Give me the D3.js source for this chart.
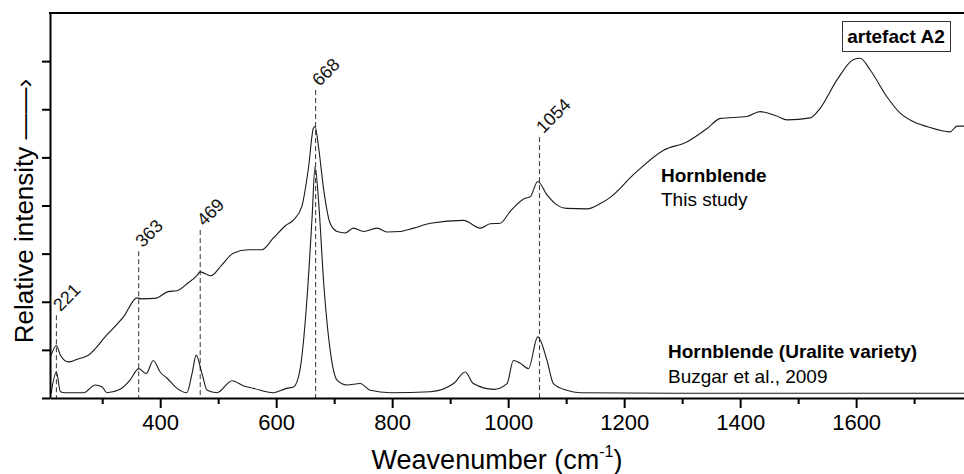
<!DOCTYPE html>
<html>
<head>
<meta charset="utf-8">
<script src="https://cdn.jsdelivr.net/npm/d3@7"></script>
<style>
	body { margin: 0; background: #fff; }
	svg { display: block; font-family: "Liberation Sans", Arial, sans-serif; }
	.axis path, .axis line { stroke: #000; }
</style>
</head>
<body>
<div id="chart"></div>
<script>
// Raman spectra, [wavenumber, relative intensity]
const thisStudy = [
	[212,0.89],[221,1.09],[228,0.89],[242,0.75],[256,0.80],[276,0.89],[308,1.31],[337,1.69],
	[360,2.08],[368,2.06],[391,2.07],[414,2.21],[429,2.23],[449,2.40],[463,2.54],[469,2.62],
	[487,2.54],[506,2.76],[526,3.01],[552,3.08],[575,3.08],[595,3.32],[616,3.58],[630,3.70],
	[644,3.97],[656,4.81],[664,5.60],[667,5.64],[673,5.22],[682,4.32],[693,3.63],[705,3.46],
	[719,3.43],[733,3.53],[751,3.46],[774,3.53],[791,3.45],[814,3.46],[837,3.53],[866,3.63],
	[923,3.69],[952,3.53],[969,3.62],[986,3.63],[1003,3.87],[1029,4.15],[1038,4.18],[1051,4.50],
	[1067,4.22],[1081,4.04],[1101,3.94],[1136,3.93],[1159,4.04],[1176,4.17],[1216,4.64],[1268,5.15],
	[1308,5.32],[1343,5.60],[1366,5.81],[1412,5.85],[1434,5.95],[1463,5.86],[1481,5.78],[1521,5.82],
	[1538,6.02],[1567,6.61],[1595,7.03],[1607,7.06],[1624,6.82],[1653,6.26],[1676,5.92],[1699,5.74],
	[1722,5.64],[1762,5.53],[1774,5.65],[1786,5.65]
];

const buzgar = [
	[212,0.10],[221,0.54],[228,0.13],[236,0.11],[268,0.11],[288,0.27],[300,0.23],[308,0.11],
	[331,0.18],[348,0.37],[363,0.61],[376,0.51],[388,0.78],[400,0.54],[412,0.41],[429,0.20],
	[446,0.11],[455,0.51],[462,0.89],[472,0.51],[481,0.16],[498,0.11],[524,0.36],[544,0.25],
	[561,0.20],[595,0.11],[618,0.20],[630,0.23],[641,0.58],[653,2.04],[662,3.77],[667,4.81],
	[673,4.11],[682,2.38],[693,1.00],[705,0.37],[722,0.27],[745,0.30],[762,0.16],[797,0.11],
	[866,0.13],[906,0.30],[926,0.54],[940,0.30],[975,0.18],[998,0.30],[1009,0.78],[1021,0.72],
	[1035,0.61],[1051,1.27],[1067,0.78],[1078,0.30],[1101,0.16],[1124,0.11],[1300,0.10],[1500,0.10],
	[1786,0.10]
];

const peaks = [221, 363, 469, 668, 1054];
const peakTops = [1.72, 3.05, 3.49, 6.40, 5.42];

const xMajor = [400, 600, 800, 1000, 1200, 1400, 1600];
const xMinor = [300, 500, 700, 900, 1100, 1300, 1500, 1700];
const yTicks = [0, 1, 2, 3, 4, 5, 6, 7];

const width = 964, height = 474;
const margin = { top: 13, right: 0, bottom: 76, left: 50 };

const svg = d3.select('#chart').append('svg')
	.attr('width', width)
	.attr('height', height);

const x = d3.scaleLinear()
	.domain([210, 1786])
	.range([margin.left, width - margin.right]);

const y = d3.scaleLinear()
	.domain([0, 8])
	.range([height - margin.bottom, margin.top]);

svg.append('clipPath').attr('id', 'plot-clip')
	.append('rect')
	.attr('x', margin.left).attr('y', margin.top)
	.attr('width', width - margin.left - margin.right)
	.attr('height', height - margin.top - margin.bottom);

// dashed peak markers
svg.append('g').selectAll('line')
	.data(peaks)
	.join('line')
	.attr('x1', d => x(d)).attr('x2', d => x(d))
	.attr('y1', (d, i) => y(peakTops[i]))
	.attr('y2', y(0))
	.attr('stroke', '#333')
	.attr('stroke-width', 1)
	.attr('stroke-dasharray', '5,3');

svg.append('g').selectAll('text')
	.data(peaks)
	.join('text')
	.attr('transform', (d, i) => `translate(${x(d) + 4},${y(peakTops[i]) - 3}) rotate(-45)`)
	.attr('font-size', 18)
	.attr('fill', '#111')
	.text(d => d);

// spectra
const line = d3.line()
	.x(d => x(d[0]))
	.y(d => y(d[1]))
	.curve(d3.curveMonotoneX);

svg.append('g').attr('clip-path', 'url(#plot-clip)')
	.selectAll('path')
	.data([thisStudy, buzgar])
	.join('path')
	.attr('d', line)
	.attr('fill', 'none')
	.attr('stroke', '#1a1a1a')
	.attr('stroke-width', 1.1);

// axes
const xAxis = svg.append('g').attr('class', 'axis')
	.attr('transform', `translate(0,${y(0)})`)
	.call(d3.axisBottom(x).tickValues(xMajor).tickFormat(d3.format('d'))
		.tickSize(10).tickSizeOuter(0).tickPadding(6))
	.call(g => g.selectAll('text').attr('font-size', 22).attr('fill', '#000').attr('font-family', null));
xAxis.select('.domain').attr('stroke-width', 2);
xAxis.selectAll('.tick line').attr('stroke-width', 2);

svg.append('g').attr('class', 'axis')
	.attr('transform', `translate(0,${y(0)})`)
	.call(d3.axisBottom(x).tickValues(xMinor).tickSize(6).tickFormat(''))
	.call(g => g.select('.domain').remove())
	.selectAll('.tick line').attr('stroke-width', 2);

const yAxis = svg.append('g').attr('class', 'axis')
	.attr('transform', `translate(${margin.left},0)`)
	.call(d3.axisLeft(y).tickValues(yTicks).tickSize(8).tickSizeOuter(0).tickFormat(''));
yAxis.select('.domain').attr('stroke-width', 2);
yAxis.selectAll('.tick line').attr('stroke-width', 2);

// top frame
svg.append('line')
	.attr('x1', margin.left - 1).attr('x2', width)
	.attr('y1', margin.top).attr('y2', margin.top)
	.attr('stroke', '#000').attr('stroke-width', 2);

// axis titles
const xTitle = svg.append('text')
	.attr('x', 497).attr('y', 469)
	.attr('text-anchor', 'middle')
	.attr('font-size', 27)
	.attr('fill', '#000');
xTitle.append('tspan').text('Weavenumber (cm');
xTitle.append('tspan').attr('font-size', 16).attr('dy', -12).text('-1');
xTitle.append('tspan').attr('dy', 12).text(')');

svg.append('text')
	.attr('transform', `translate(33,211) rotate(-90)`)
	.attr('text-anchor', 'middle')
	.attr('font-size', 26)
	.attr('fill', '#000')
	.text('Relative intensity ——›');

// series labels
const labels = [
	{ x: 661, y: 182, text: 'Hornblende', bold: true },
	{ x: 661, y: 206, text: 'This study', bold: false },
	{ x: 668, y: 358, text: 'Hornblende (Uralite variety)', bold: true },
	{ x: 668, y: 383, text: 'Buzgar et al., 2009', bold: false }
];
svg.append('g').selectAll('text')
	.data(labels)
	.join('text')
	.attr('x', d => d.x).attr('y', d => d.y)
	.attr('font-size', 19)
	.attr('font-weight', d => d.bold ? 'bold' : 'normal')
	.attr('fill', '#000')
	.text(d => d.text);

// sample box
svg.append('rect')
	.attr('x', 842.5).attr('y', 21.5)
	.attr('width', 108).attr('height', 30)
	.attr('fill', '#fff')
	.attr('stroke', '#333')
	.attr('stroke-width', 1);
svg.append('text')
	.attr('x', 896).attr('y', 43)
	.attr('text-anchor', 'middle')
	.attr('font-size', 19)
	.attr('font-weight', 'bold')
	.text('artefact A2');
</script>
</body>
</html>
